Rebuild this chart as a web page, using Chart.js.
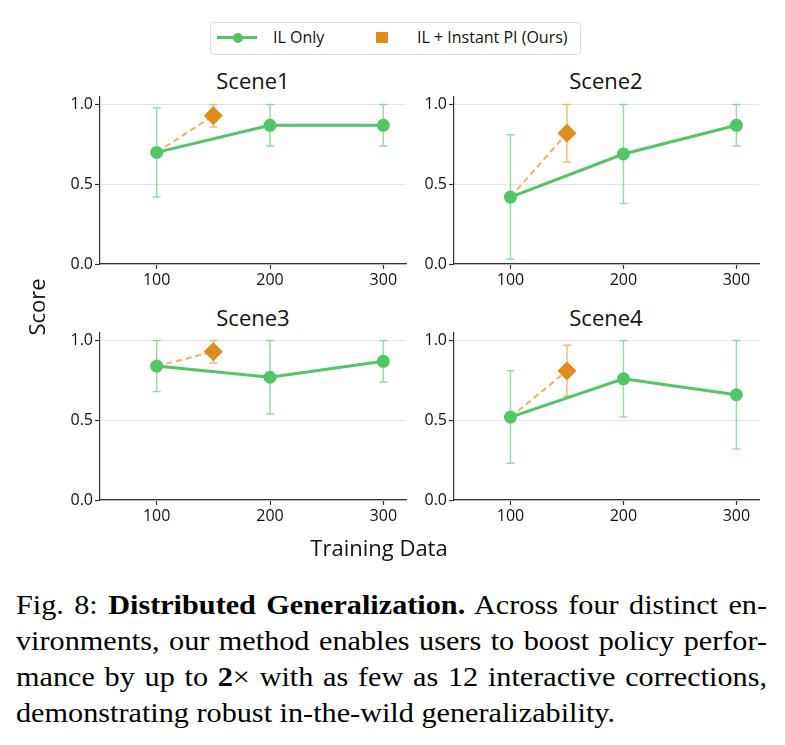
<!DOCTYPE html>
<html lang="en">
<head>
<meta charset="UTF-8">
<title>Distributed Generalization</title>
<script src="https://cdn.jsdelivr.net/npm/chart.js"></script>
<style>
    body { margin: 0; background: #fff; width: 785px; height: 745px; position: relative; overflow: hidden; font-family: 'Open Sans', sans-serif; color: #111; }
    .abs { position: absolute; }
    .title { font-size: 22px; line-height: 22px; text-align: center; width: 200px; }
    .legend { left: 210px; top: 22px; width: 369px; height: 31px; border: 1px solid #dcdcdc; border-radius: 4px; }
    .legend-text { font-size: 16px; line-height: 16px; white-space: nowrap; }
    .caption { font-family: 'Liberation Serif', 'Tinos', 'Noto Serif', 'TeX Gyre Termes', 'Nimbus Roman No9 L', 'FreeSerif', 'Times New Roman', serif; font-size: 28px; line-height: 36px; left: 16px; white-space: nowrap; transform-origin: left top; color: #000; }
</style>
</head>
<body>
    <!-- legend -->
    <div class="abs legend"></div>
    <div class="abs" style="left:217px; top:36px; width:40px; height:3px; background:#52c565;"></div>
    <div class="abs" style="left:233px; top:32.5px; width:10px; height:10px; border-radius:50%; background:#52c565;"></div>
    <div class="abs legend-text" style="left:273px; top:28.5px;">IL Only</div>
    <div class="abs" style="left:376px; top:31.5px; width:12px; height:11px; background:#df8c1b;"></div>
    <div class="abs legend-text" style="left:417px; top:28.5px;">IL + Instant PI (Ours)</div>

    <!-- subplot titles -->
    <div class="abs title" style="left:153px; top:69px;">Scene1</div>
    <div class="abs title" style="left:506px; top:69px;">Scene2</div>
    <div class="abs title" style="left:153px; top:305.5px;">Scene3</div>
    <div class="abs title" style="left:506px; top:305.5px;">Scene4</div>

    <canvas id="c0" class="abs" width="376" height="214" style="left:40px; top:85px;"></canvas>
    <canvas id="c1" class="abs" width="375" height="214" style="left:394px; top:85px;"></canvas>
    <canvas id="c2" class="abs" width="376" height="214" style="left:40px; top:321px;"></canvas>
    <canvas id="c3" class="abs" width="375" height="214" style="left:394px; top:321px;"></canvas>

    <!-- axis labels -->
    <div class="abs" style="left:-14px; top:296px; width:100px; text-align:center; font-size:22px; line-height:22px; transform:rotate(-90deg);">Score</div>
    <div class="abs" style="left:279px; top:536px; width:200px; text-align:center; font-size:22px; line-height:22px;">Training Data</div>

    <!-- caption -->
    <div class="abs caption" id="l0" style="top:587px;"></div>
    <div class="abs caption" id="l1" style="top:623px;"></div>
    <div class="abs caption" id="l2" style="top:659px;"></div>
    <div class="abs caption" id="l3" style="top:695px;"></div>

<script>
    const scenes = ['Scene1', 'Scene2', 'Scene3', 'Scene4'];
    const trainSizes = [100, 200, 300];
    const piSize = 150;
    const xTicks = [100, 200, 300];
    const yTicks = [0, 0.5, 1.0];

    // IL only: mean and error bar ends, one row per scene
    const ilMean = [[0.70, 0.87, 0.87], [0.42, 0.69, 0.87], [0.84, 0.77, 0.87], [0.52, 0.76, 0.66]];
    const ilLow  = [[0.42, 0.74, 0.74], [0.03, 0.38, 0.74], [0.68, 0.54, 0.74], [0.23, 0.52, 0.32]];
    const ilHigh = [[0.98, 1.00, 1.00], [0.81, 1.00, 1.00], [1.00, 1.00, 1.00], [0.81, 1.00, 1.00]];

    // IL + Instant PI, one value per scene
    const piMean = [0.93, 0.82, 0.93, 0.81];
    const piLow  = [0.86, 0.64, 0.86, 0.65];
    const piHigh = [1.00, 1.00, 1.00, 0.97];

    const GREEN = '#52c565';
    const ORANGE = '#df8c1b';

    // vertical error bars with caps, drawn under the markers
    const errorBars = {
        id: 'errorBars',
        beforeDatasetsDraw(chart) {
            const { ctx, scales: { x, y } } = chart;
            chart.data.datasets.forEach(ds => {
                if (!ds.errLow) return;
                ctx.save();
                ctx.strokeStyle = ds.errColor;
                ctx.lineWidth = 1.5;
                ds.data.forEach((p, k) => {
                    const lo = ds.errLow[k], hi = ds.errHigh[k];
                    if (lo == null) return;
                    const px = x.getPixelForValue(p.x);
                    const y1 = y.getPixelForValue(lo), y2 = y.getPixelForValue(hi);
                    ctx.beginPath();
                    ctx.moveTo(px, y1); ctx.lineTo(px, y2);
                    ctx.moveTo(px - 4, y1); ctx.lineTo(px + 4, y1);
                    ctx.moveTo(px - 4, y2); ctx.lineTo(px + 4, y2);
                    ctx.stroke();
                });
                ctx.restore();
            });
        }
    };

    const tickFont = { family: 'Open Sans', size: 16 };

    scenes.forEach((name, i) => {
        const ilPoints = trainSizes.map((x, k) => ({ x: x, y: ilMean[i][k] }));
        const piPoints = [{ x: trainSizes[0], y: ilMean[i][0] }, { x: piSize, y: piMean[i] }];

        new Chart(document.getElementById('c' + i), {
            type: 'line',
            data: {
                datasets: [{
                    label: 'IL Only',
                    data: ilPoints,
                    borderColor: GREEN,
                    backgroundColor: GREEN,
                    borderWidth: 3,
                    pointRadius: 5,
                    pointHoverRadius: 5,
                    tension: 0,
                    errLow: ilLow[i],
                    errHigh: ilHigh[i],
                    errColor: 'rgba(82,200,105,0.6)'
                }, {
                    label: 'IL + Instant PI (Ours)',
                    data: piPoints,
                    borderColor: '#efb15c',
                    borderDash: [6, 4],
                    borderWidth: 2,
                    pointStyle: 'rectRot',
                    pointRadius: [0, 9],
                    pointHoverRadius: [0, 9],
                    pointBackgroundColor: ORANGE,
                    pointBorderColor: ORANGE,
                    pointBorderWidth: 1,
                    tension: 0,
                    errLow: [null, piLow[i]],
                    errHigh: [null, piHigh[i]],
                    errColor: 'rgba(236,168,70,0.75)'
                }]
            },
            options: {
                responsive: false,
                animation: false,
                devicePixelRatio: 1,
                layout: { padding: { top: 10, right: 10, left: 0, bottom: 0 } },
                plugins: { legend: { display: false }, tooltip: { enabled: false } },
                scales: {
                    x: {
                        type: 'linear',
                        min: 50,
                        max: 320,
                        afterBuildTicks: s => { s.ticks = xTicks.map(v => ({ value: v })); },
                        afterFit: s => { s.height = 35; },
                        grid: { drawOnChartArea: false, tickColor: '#333', tickLength: 5, tickWidth: 1.2 },
                        border: { color: '#333', width: 1.2 },
                        ticks: { font: tickFont, color: '#111', padding: 2, maxRotation: 0 }
                    },
                    y: {
                        min: 0,
                        max: 1.05,
                        afterBuildTicks: s => { s.ticks = yTicks.map(v => ({ value: v })); },
                        afterFit: s => { s.width = 60; },
                        grid: { color: '#e6e6e6', tickColor: '#333', tickLength: 5, tickWidth: 1.2 },
                        border: { color: '#333', width: 1.2 },
                        ticks: { font: tickFont, color: '#111', padding: 2, callback: v => v.toFixed(1) }
                    }
                }
            },
            plugins: [errorBars]
        });
    });

    // caption lines, justified to the block width
    const lines = [
        'Fig. 8: <b>Distributed Generalization.</b> Across four distinct en-',
        'vironments, our method enables users to boost policy perfor-',
        'mance by up to <b>2</b>× with as few as 12 interactive corrections,',
        'demonstrating robust in-the-wild generalizability.'
    ];
    const blockWidth = 751;
    const lastWidth = 599;
    const last = document.getElementById('l3');
    last.innerHTML = lines[3];
    const scale = lastWidth / last.getBoundingClientRect().width;
    lines.forEach((t, k) => {
        const el = document.getElementById('l' + k);
        el.innerHTML = t;
        el.style.transform = 'scaleX(' + scale + ')';
        if (k < 3) {
            el.style.whiteSpace = 'normal';
            el.style.width = (blockWidth / scale) + 'px';
            el.style.textAlign = 'justify';
            el.style.textAlignLast = 'justify';
        }
    });
</script>
</body>
</html>
